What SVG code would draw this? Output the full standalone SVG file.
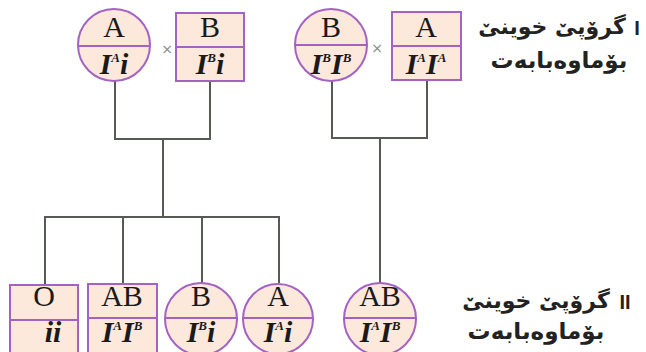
<svg xmlns="http://www.w3.org/2000/svg" width="646" height="352" viewBox="0 0 646 352">
<style>
.nd{fill:#fde8dc;stroke:#a462c2;stroke-width:2}
.dv{stroke:#a462c2;stroke-width:2}
.ph{font-family:"Liberation Serif",serif;font-size:30px;fill:#1a1a1a;text-anchor:middle}
.gt{font-family:"Liberation Serif",serif;font-size:30px;font-weight:bold;font-style:italic;fill:#1a1a1a;text-anchor:middle}
.sp{font-size:13px}
.cn{stroke:#555a55;stroke-width:2;fill:none}
.x{font-family:"DejaVu Sans",sans-serif;font-size:14px;fill:#888;text-anchor:middle}
.lb{font-family:"DejaVu Sans",sans-serif;font-size:22px;font-weight:bold;fill:#222;text-anchor:middle}
.lb2{font-size:23px}
.rn{font-family:"Liberation Sans",sans-serif;font-size:20px;font-weight:bold;fill:#222;text-anchor:middle}
</style>
<rect width="646" height="352" fill="#fff"/>
<g id="connectors">
<path class="cn" d="M115 81V139H210V81M163 139V217M45 285V217H279V283M123 217V284M202 217V283"/>
<path class="cn" d="M332 81V138H427V80M380 138V283"/>
</g>
<g id="p1">
<circle class="nd" cx="114" cy="45" r="36"/>
<line class="dv" x1="78" y1="46" x2="150" y2="46"/>
<text class="ph" x="114" y="37">A</text>
<text class="gt" x="114" y="74">I<tspan class="sp" dy="-12">A</tspan><tspan dy="12">i</tspan></text>
</g>
<text class="x" x="167" y="54">×</text>
<g id="p2">
<rect class="nd" x="176" y="13" width="68" height="68"/>
<line class="dv" x1="176" y1="47" x2="244" y2="47"/>
<text class="ph" x="210" y="37">B</text>
<text class="gt" x="210" y="74">I<tspan class="sp" dy="-12">B</tspan><tspan dy="12">i</tspan></text>
</g>
<g id="p3">
<circle class="nd" cx="331" cy="45" r="36"/>
<line class="dv" x1="295" y1="45" x2="367" y2="45"/>
<text class="ph" x="331" y="37">B</text>
<text class="gt" x="331" y="74">I<tspan class="sp" dy="-12">B</tspan><tspan dy="12">I</tspan><tspan class="sp" dy="-12">B</tspan></text>
</g>
<text class="x" x="377" y="53">×</text>
<g id="p4">
<rect class="nd" x="392" y="12" width="69" height="68"/>
<line class="dv" x1="392" y1="46" x2="461" y2="46"/>
<text class="ph" x="426" y="37">A</text>
<text class="gt" x="426" y="74">I<tspan class="sp" dy="-12">A</tspan><tspan dy="12">I</tspan><tspan class="sp" dy="-12">A</tspan></text>
</g>
<g id="c1">
<rect class="nd" x="10" y="285" width="68" height="70"/>
<line class="dv" x1="10" y1="320" x2="78" y2="320"/>
<text class="ph" x="44" y="306">O</text>
<text class="gt" x="53" y="342">ii</text>
</g>
<g id="c2">
<rect class="nd" x="88" y="284" width="69" height="70"/>
<line class="dv" x1="88" y1="318" x2="157" y2="318"/>
<text class="ph" x="122" y="306">AB</text>
<text class="gt" x="122" y="342">I<tspan class="sp" dy="-12">A</tspan><tspan dy="12">I</tspan><tspan class="sp" dy="-12">B</tspan></text>
</g>
<g id="c3">
<circle class="nd" cx="201" cy="319" r="36"/>
<line class="dv" x1="165" y1="318" x2="237" y2="318"/>
<text class="ph" x="201" y="306">B</text>
<text class="gt" x="201" y="342">I<tspan class="sp" dy="-12">B</tspan><tspan dy="12">i</tspan></text>
</g>
<g id="c4">
<circle class="nd" cx="278" cy="319" r="35"/>
<line class="dv" x1="243" y1="318" x2="313" y2="318"/>
<text class="ph" x="278" y="306">A</text>
<text class="gt" x="278" y="342">I<tspan class="sp" dy="-12">A</tspan><tspan dy="12">i</tspan></text>
</g>
<g id="c5">
<circle class="nd" cx="380" cy="319" r="36"/>
<line class="dv" x1="344" y1="318" x2="416" y2="318"/>
<text class="ph" x="380" y="306">AB</text>
<text class="gt" x="380" y="342">I<tspan class="sp" dy="-12">A</tspan><tspan dy="12">I</tspan><tspan class="sp" dy="-12">B</tspan></text>
</g>
<g id="label1">
<text class="rn" x="637" y="35">I</text>
<text class="lb" x="552" y="34" direction="rtl">گرۆپێ خوینێ</text>
<text class="lb lb2" x="559" y="68" direction="rtl">بۆماوەبابەت</text>
</g>
<g id="label2">
<text class="rn" x="625" y="309">II</text>
<text class="lb" x="536" y="308" direction="rtl">گرۆپێ خوینێ</text>
<text class="lb lb2" x="536" y="339" direction="rtl">بۆماوەبابەت</text>
</g>
</svg>
